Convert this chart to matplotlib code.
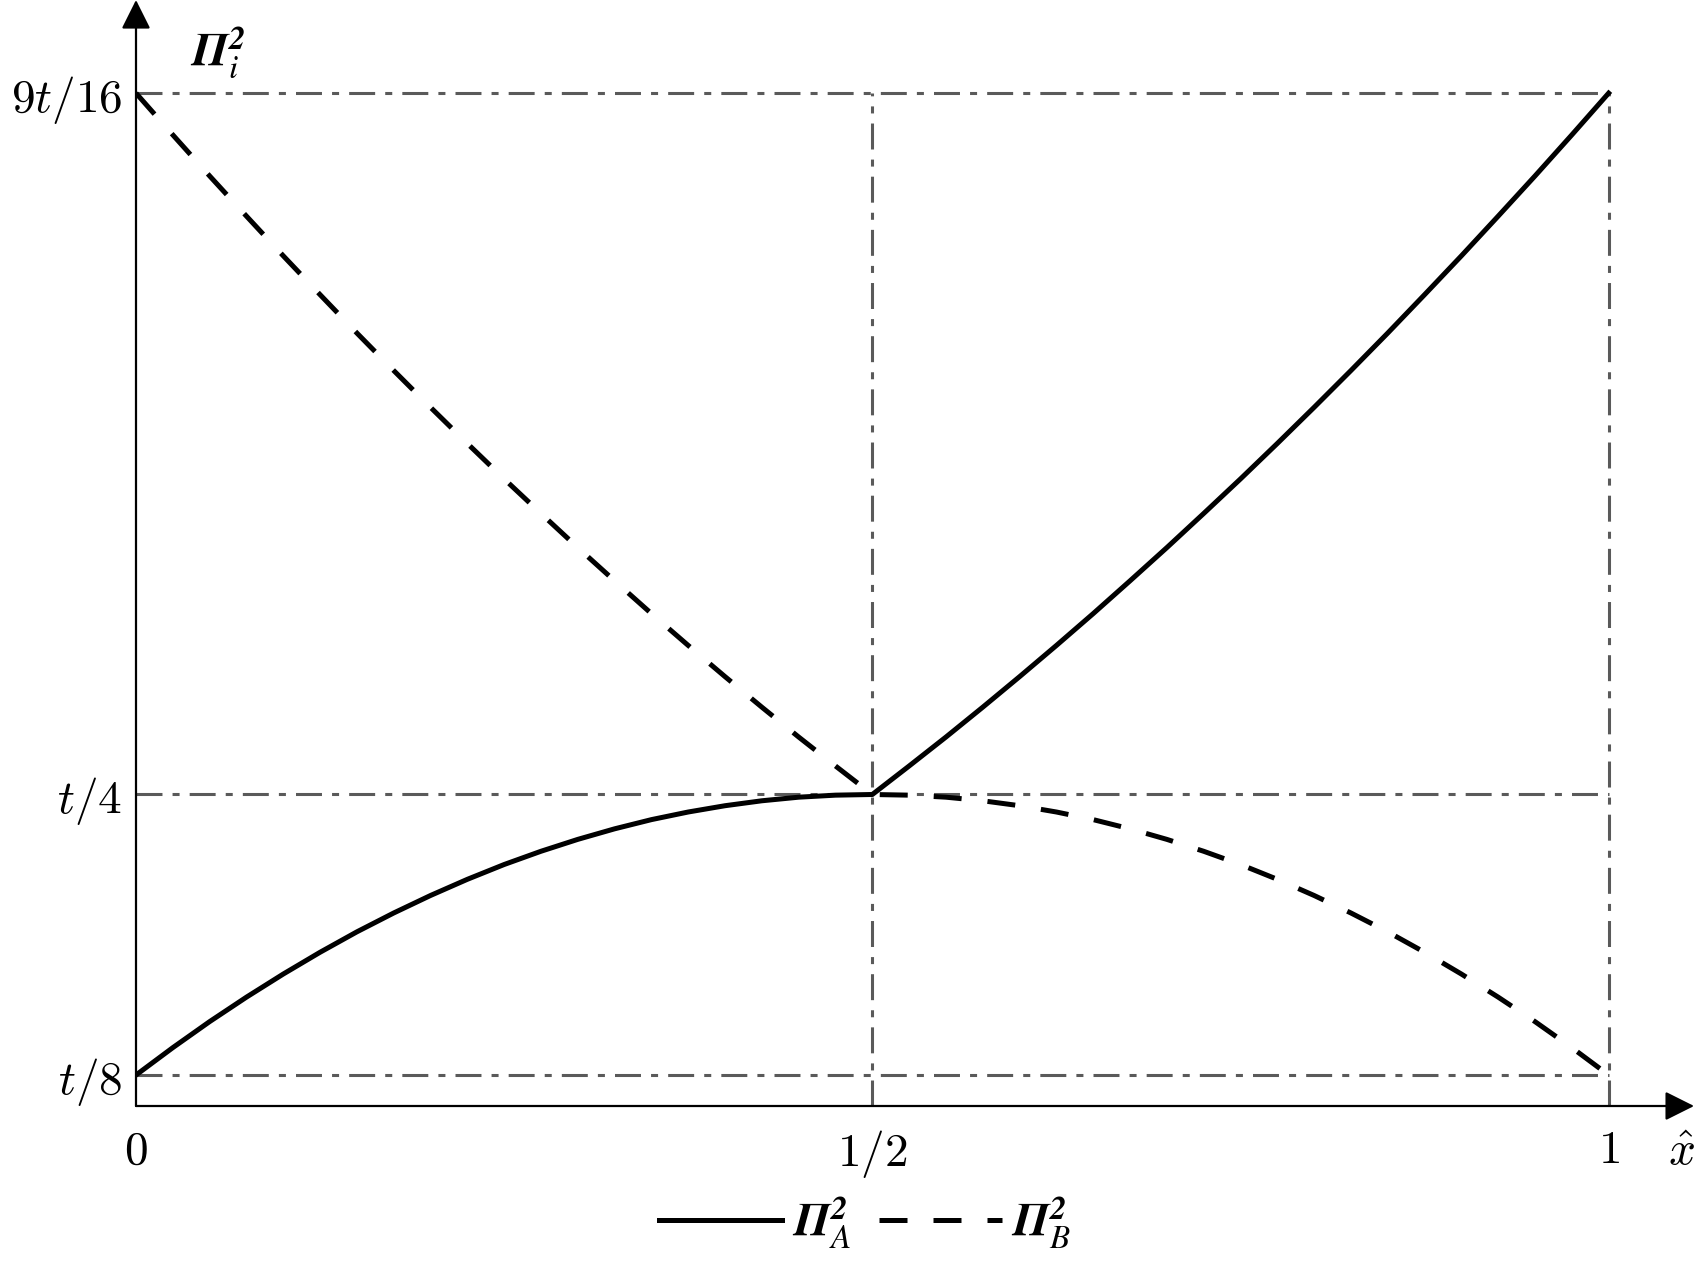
import matplotlib
matplotlib.use("Agg")
import matplotlib.pyplot as plt

# values, in units of t
x_hat = [0.0, 0.025, 0.05, 0.075, 0.1, 0.125, 0.15, 0.175, 0.2, 0.225, 0.25,
         0.275, 0.3, 0.325, 0.35, 0.375, 0.4, 0.425, 0.45, 0.475, 0.5,
         0.525, 0.55, 0.575, 0.6, 0.625, 0.65, 0.675, 0.7, 0.725, 0.75,
         0.775, 0.8, 0.825, 0.85, 0.875, 0.9, 0.925, 0.95, 0.975, 1.0]
pi_a = [0.125, 0.1372, 0.1488, 0.1597, 0.170, 0.1797, 0.1888, 0.1972, 0.205, 0.2122, 0.2188,
        0.2247, 0.230, 0.2347, 0.2388, 0.2422, 0.245, 0.2472, 0.2488, 0.2497, 0.250,
        0.2627, 0.2756, 0.2889, 0.3025, 0.3164, 0.3306, 0.3452, 0.360, 0.3752, 0.3906,
        0.4064, 0.4225, 0.4389, 0.4556, 0.4727, 0.490, 0.5077, 0.5256, 0.5439, 0.5625]
pi_b = [0.5625, 0.5439, 0.5256, 0.5077, 0.490, 0.4727, 0.4556, 0.4389, 0.4225, 0.4064, 0.3906,
        0.3752, 0.360, 0.3452, 0.3306, 0.3164, 0.3025, 0.2889, 0.2756, 0.2627, 0.250,
        0.2497, 0.2488, 0.2472, 0.245, 0.2422, 0.2388, 0.2347, 0.230, 0.2247, 0.2188,
        0.2122, 0.205, 0.1972, 0.1888, 0.1797, 0.170, 0.1597, 0.1488, 0.1372, 0.125]

y_ticks = [0.125, 0.25, 0.5625]
y_tick_labels = [r"$t/8$", r"$t/4$", r"$9t/16$"]
x_ticks = [0, 0.5, 1]
x_tick_labels = [r"$0$", r"$1/2$", r"$1$"]

plt.rcParams["mathtext.fontset"] = "cm"
# custom set only used for the bold italic Pi labels
plt.rcParams["mathtext.rm"] = "STIXGeneral"
plt.rcParams["mathtext.it"] = "STIXGeneral:italic"
plt.rcParams["mathtext.bf"] = "STIXGeneral:italic:bold"
plt.rcParams["font.family"] = "serif"
plt.rcParams["font.serif"] = ["DejaVu Serif"]

FS = 34

fig = plt.figure(figsize=(16.97, 12.68), dpi=100)
ax = fig.add_axes([136 / 1697, 1 - 1106 / 1268, 1 - 136 / 1697, 1106 / 1268])
ymin, ymax = 0.1112, 0.604
ax.set_xlim(0, 1.06)
ax.set_ylim(ymin, ymax)
for s in ax.spines.values():
    s.set_visible(False)

# guide lines
grid_kw = dict(color="#5a5a5a", lw=2.2, dashes=(8.5, 3.3, 2.3, 3.3))
for yv in y_ticks:
    ax.plot([0, 1], [yv, yv], **grid_kw)
for xv in [0.5, 1]:
    ax.plot([xv, xv], [ymin, y_ticks[-1]], **grid_kw)

# curves
ax.plot(x_hat, pi_a, color="black", lw=3.6, label=r"$\mathbf{\Pi}^{\mathbf{2}}_A$")
ax.plot(x_hat, pi_b, color="black", lw=3.6, dashes=(5.6, 5.2), label=r"$\mathbf{\Pi}^{\mathbf{2}}_B$")

# axes with arrows
arr = dict(arrowstyle="-|>", color="black", lw=1.6, mutation_scale=45, shrinkA=0, shrinkB=0)
ax.annotate("", xy=(1.058, ymin), xytext=(0, ymin), arrowprops=arr, annotation_clip=False)
ax.annotate("", xy=(0, ymax), xytext=(0, ymin), arrowprops=arr, annotation_clip=False)

ax.set_xticks(x_ticks)
ax.set_xticklabels(x_tick_labels, fontsize=FS)
ax.set_yticks(y_ticks)
ax.set_yticklabels(y_tick_labels, fontsize=FS)
ax.tick_params(axis="x", length=0, pad=16)
ax.tick_params(axis="y", length=0, pad=10)

fig.text(1681 / 1697, 1 - 1152 / 1268, r"$\hat{x}$", fontsize=FS, ha="center", va="center")
lab = fig.text(218 / 1697, 1 - 52 / 1268, r"$\mathbf{\Pi}^{\mathbf{2}}_i$", fontsize=FS,
               ha="center", va="center")
lab.set_math_fontfamily("custom")

leg = fig.legend(loc="lower center", bbox_to_anchor=(0.51, -0.02), ncol=2, frameon=False,
                 fontsize=FS, handlelength=2.6, columnspacing=0.6, handletextpad=0.2)
for t in leg.get_texts():
    t.set_math_fontfamily("custom")

fig.savefig("out.png", dpi=100)
